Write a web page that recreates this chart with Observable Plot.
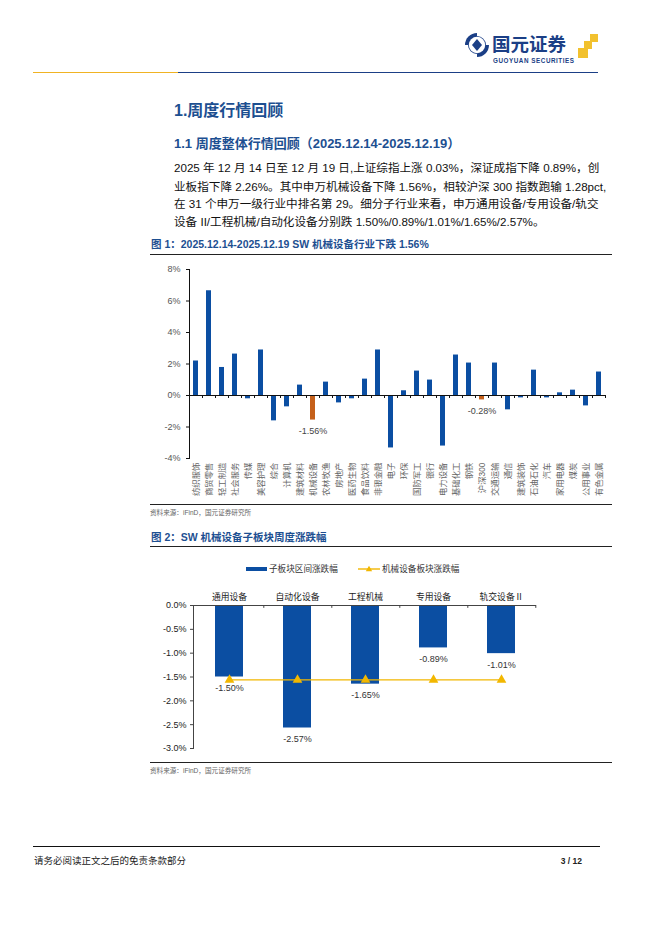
<!DOCTYPE html>
<html>
<head>
<meta charset="utf-8">
<script src="https://cdn.jsdelivr.net/npm/d3@7"></script>
<script src="https://cdn.jsdelivr.net/npm/@observablehq/plot@0.6"></script>
<style>
  html, body { margin: 0; padding: 0; background: #fff; }
  body { font-family: "Liberation Sans", "Noto Sans CJK SC", sans-serif; }
  #page { position: relative; width: 662px; height: 936px; overflow: hidden; background: #fff; }
  .abs { position: absolute; white-space: nowrap; line-height: 1; }
  .hr { position: absolute; height: 0; }
  .para { position: absolute; left: 174px; width: 424px; font-size: 11.6px; color: #111; line-height: 1; }
  .para div { position: absolute; left: 0; width: 424px; text-align: justify; text-align-last: justify; white-space: nowrap; }
  .para div.last { text-align-last: left; }
  .figtitle { font-size: 10.5px; font-weight: bold; color: #1D4F91; }
  .source { font-size: 6.6px; color: #666; }
</style>
</head>
<body>
<div id="page">
  <!-- header logo -->
  <svg class="abs" style="left:462px;top:28px" width="145" height="40" viewBox="0 0 145 40">
    <circle cx="15" cy="17" r="12" fill="#1B3F86"/>
    <circle cx="15" cy="17" r="8.2" fill="#fff"/>
    <path d="M15 3 A14 14 0 0 1 29 17 L24 17 A9 9 0 0 0 15 8 Z" fill="#fff"/>
    <path d="M15 31 A14 14 0 0 1 1 17 L6 17 A9 9 0 0 0 15 26 Z" fill="#fff"/>
    <path d="M15 11 L20 17 L15 23 L10 17 Z" fill="#1B3F86"/>
    <text x="30" y="22.5" font-family="Noto Sans CJK SC" font-weight="bold" font-size="18.5" fill="#1B3F86">国元证券</text>
    <text x="31" y="34.5" font-family="Liberation Sans" font-weight="bold" font-size="6.3" fill="#1B3F86" textLength="81">GUOYUAN SECURITIES</text>
    <rect x="128" y="6" width="8" height="8" fill="#F2C12E"/>
    <rect x="122" y="13" width="8" height="8" fill="#F2C12E"/>
    <rect x="116" y="20" width="10" height="10" fill="#F2C12E"/>
  </svg>
  <div class="hr" style="left:33px;top:72px;width:145px;border-top:1.3px solid #F0B323"></div>
  <div class="hr" style="left:178px;top:72px;width:420px;border-top:1.3px solid #1B3F86"></div>

  <!-- headings -->
  <div class="abs" style="left:174px;top:103px;font-size:16px;font-weight:bold;color:#1D4F91">1.周度行情回顾</div>
  <div class="abs" style="left:174px;top:137px;font-size:13px;font-weight:bold;color:#1D4F91">1.1 周度整体行情回顾（2025.12.14-2025.12.19）</div>

  <div class="para" style="top:0">
    <div style="top:162px">2025 年 12 月 14 日至 12 月 19 日,上证综指上涨 0.03%，深证成指下降 0.89%，创</div>
    <div style="top:180.5px">业板指下降 2.26%。其中申万机械设备下降 1.56%，相较沪深 300 指数跑输 1.28pct,</div>
    <div style="top:198px">在 31 个申万一级行业中排名第 29。细分子行业来看，申万通用设备/专用设备/轨交</div>
    <div class="last" style="top:215.5px">设备 II/工程机械/自动化设备分别跌 1.50%/0.89%/1.01%/1.65%/2.57%。</div>
  </div>

  <!-- figure 1 -->
  <div class="abs figtitle" style="left:151px;top:239px">图 1：2025.12.14-2025.12.19 SW 机械设备行业下跌 1.56%</div>
  <div class="hr" style="left:150px;top:254px;width:462px;border-top:1px solid #222"></div>
  <div id="chart1" class="abs" style="left:140px;top:258px"></div>
  <div class="hr" style="left:150px;top:504px;width:462px;border-top:1px solid #222"></div>
  <div class="abs source" style="left:150px;top:510px">资料来源：iFinD，国元证券研究所</div>

  <!-- figure 2 -->
  <div class="abs figtitle" style="left:151px;top:532px">图 2：SW 机械设备子板块周度涨跌幅</div>
  <div class="hr" style="left:150px;top:546px;width:462px;border-top:1px solid #222"></div>
  <div id="legend2" class="abs" style="left:246px;top:563px;height:12px;font-size:8.6px;color:#333"></div>
  <div id="chart2" class="abs" style="left:140px;top:580px"></div>
  <div class="hr" style="left:150px;top:762px;width:462px;border-top:1px solid #222"></div>
  <div class="abs source" style="left:150px;top:768px">资料来源：iFinD，国元证券研究所</div>

  <!-- footer -->
  <div class="hr" style="left:33px;top:846px;width:567px;border-top:1.6px solid #111"></div>
  <div class="abs" style="left:34px;top:856px;font-size:9.5px;color:#222">请务必阅读正文之后的免责条款部分</div>
  <div class="abs" style="left:552px;top:857px;width:30px;text-align:right;font-size:8.5px;font-weight:bold;color:#222">3 / 12</div>
</div>

<script>
// ---------- Data: figure 1 ----------
const industries = ["纺织服饰","商贸零售","轻工制造","社会服务","传媒","美容护理","综合","计算机","建筑材料","机械设备","农林牧渔","房地产","医药生物","食品饮料","非银金融","电子","环保","国防军工","银行","电力设备","基础化工","钢铁","沪深300","交通运输","通信","建筑装饰","石油石化","汽车","家用电器","煤炭","公用事业","有色金属"];
const weeklyChanges = [2.19, 6.65, 1.78, 2.63, -0.21, 2.89, -1.61, -0.72, 0.66, -1.56, 0.85, -0.47, -0.21, 1.04, 2.89, -3.33, 0.30, 1.55, 0.98, -3.21, 2.57, 2.06, -0.28, 2.06, -0.91, -0.15, 1.61, -0.15, 0.17, 0.34, -0.66, 1.49];
const highlighted = ["机械设备", "沪深300"];
const yTicks1 = [-4, -2, 0, 2, 4, 6, 8];

// ---------- Data: figure 2 ----------
const subsectors = ["通用设备","自动化设备","工程机械","专用设备","轨交设备Ⅱ"];
const subsectorChanges = [-1.50, -2.57, -1.65, -0.89, -1.01];
const sectorChange = -1.56;
const yTicks2 = [0, -0.5, -1.0, -1.5, -2.0, -2.5, -3.0];
const legendLabels = ["子板块区间涨跌幅", "机械设备板块涨跌幅"];

const BLUE = "#0B4EA2", ORANGE = "#C5601A", YELLOW = "#F2B700";
const FONT = '"Liberation Sans", "Noto Sans CJK SC", sans-serif';

// ---------- Figure 1 ----------
const data1 = industries.map((name, i) => ({name, value: weeklyChanges[i], hl: highlighted.includes(name)}));
const W1 = 470, H1 = 245, ML1 = 49, MR1 = 5;
const step1 = (W1 - ML1 - MR1) / industries.length;
const chart1 = Plot.plot({
  width: W1, height: H1,
  marginLeft: ML1, marginRight: MR1, marginTop: 11, marginBottom: 45,
  style: {fontFamily: FONT, fontSize: "9px", color: "#555", background: "transparent", overflow: "visible"},
  x: {domain: industries, paddingInner: 0.58, paddingOuter: 0.29, label: null},
  y: {domain: [-4, 8], label: null},
  color: {domain: [false, true], range: [BLUE, ORANGE]},
  marks: [
    Plot.barY(data1, {x: "name", y: "value", fill: "hl"}),
    Plot.ruleY([0], {stroke: "#111", strokeWidth: 1}),
    Plot.ruleX(industries, {x: d => d, y1: 0, y2: -0.19, dx: step1 / 2, stroke: "#111"}),
    Plot.frame({anchor: "left", stroke: "#111"}),
    Plot.axisY({ticks: yTicks1, tickFormat: d => d + "%", tickSize: 3, tickPadding: 6, fontSize: 9, stroke: "#111"}),
    Plot.axisX({anchor: "bottom", tickSize: 0, tickRotate: -90, tickPadding: 4, fontSize: 8.4, fill: "#666"}),
    Plot.text(data1.filter(d => d.hl), {x: "name", y: "value", text: d => d.value.toFixed(2) + "%", dy: 11, fontSize: 9, fill: "#444"})
  ]
});
document.getElementById("chart1").appendChild(chart1);

// ---------- Figure 2 ----------
const data2 = subsectors.map((name, i) => ({name, value: subsectorChanges[i]}));
const sectorLine = subsectors.map(name => ({name, value: sectorChange}));
const W2 = 470, H2 = 175, ML2 = 53, MR2 = 74;
const chart2 = Plot.plot({
  width: W2, height: H2,
  marginLeft: ML2, marginRight: MR2, marginTop: 25, marginBottom: 7,
  style: {fontFamily: FONT, fontSize: "9px", color: "#333", background: "transparent", overflow: "visible"},
  x: {domain: subsectors, paddingInner: 0.595, paddingOuter: 0.2975, label: null},
  y: {domain: [-3, 0], label: null},
  marks: [
    Plot.barY(data2, {x: "name", y: "value", fill: BLUE}),
    Plot.ruleY([0], {stroke: "#444", strokeWidth: 1}),
    Plot.ruleX(subsectors, {x: d => d, y1: 0, y2: -0.06, dx: (W2 - ML2 - MR2) / subsectors.length / 2, stroke: "#444"}),
    Plot.frame({anchor: "left", stroke: "#444"}),
    Plot.axisY({ticks: yTicks2, tickFormat: d => d.toFixed(1) + "%", tickSize: 3, tickPadding: 4, fontSize: 9, fill: "#222", stroke: "#444"}),
    Plot.axisX({anchor: "top", tickSize: 0, tickPadding: 6, fontSize: 8.8, fill: "#222"}),
    Plot.lineY(sectorLine, {x: "name", y: "value", stroke: YELLOW, strokeWidth: 1.4}),
    Plot.dot(sectorLine, {x: "name", y: "value", symbol: "triangle", r: 3.6, fill: YELLOW, stroke: "none"}),
    Plot.text(data2, {x: "name", y: "value", text: d => d.value.toFixed(2) + "%", dy: 11, fontSize: 9, fill: "#333"})
  ]
});
document.getElementById("chart2").appendChild(chart2);

// ---------- Legend for figure 2 ----------
const legend = document.getElementById("legend2");
legend.innerHTML = `
  <svg width="240" height="12" style="position:absolute;left:0;top:0">
    <rect x="0" y="4" width="21" height="4" fill="${BLUE}"></rect>
    <text x="23" y="9.3" font-size="8.6" fill="#333" font-family='Noto Sans CJK SC'>${legendLabels[0]}</text>
    <line x1="112" y1="6" x2="134" y2="6" stroke="${YELLOW}" stroke-width="1.4"></line>
    <path d="M123 2.8 L126.2 8.2 L119.8 8.2 Z" fill="${YELLOW}"></path>
    <text x="136" y="9.3" font-size="8.6" fill="#333" font-family='Noto Sans CJK SC'>${legendLabels[1]}</text>
  </svg>`;
</script>
</body>
</html>
